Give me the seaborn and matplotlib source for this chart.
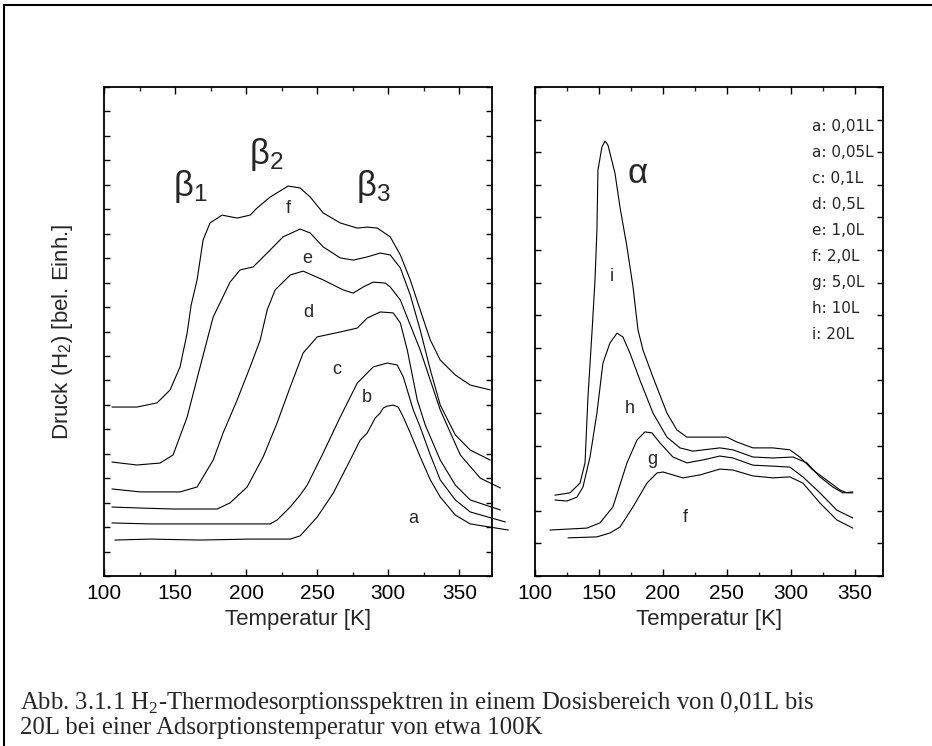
import numpy as np
import pandas as pd
import seaborn as sns
import matplotlib.pyplot as plt
from matplotlib.lines import Line2D

# left panel: doses a..f, beta states
a_x = [107.7, 132.4, 167.6, 202.8, 231, 238, 250, 261.3, 273.2, 280.3, 285.2, 290.8, 294.4, 296.5, 299.3, 303.5, 307, 310.6, 315.5, 322.5, 329.6, 336.6, 347.2, 357.7, 384.5]
a_y = [1.47, 1.51, 1.47, 1.51, 1.51, 1.64, 2.41, 3.39, 4.74, 5.56, 5.85, 6.46, 6.67, 6.87, 6.95, 6.99, 6.91, 6.5, 5.85, 4.87, 3.93, 3.23, 2.49, 2.13, 1.88]

b_x = [105.6, 132.4, 167.6, 216.9, 221.8, 231, 238, 243, 254.2, 266.2, 278.2, 289.4, 299.3, 306.3, 310.6, 317.6, 322.5, 329.6, 336.6, 347.2, 357.7, 382.4]
b_y = [2.17, 2.13, 2.13, 2.13, 2.29, 2.82, 3.31, 3.72, 5.03, 6.5, 7.89, 8.55, 8.71, 8.63, 8.14, 6.79, 6.09, 4.95, 3.93, 3.11, 2.62, 2.21]

c_x = [105.6, 125.4, 148.6, 179.6, 188.7, 200.7, 212, 221.8, 231, 240.1, 250, 266.2, 278.2, 285.2, 294.4, 303.5, 308.5, 313.4, 320.4, 326, 336.6, 347.2, 357.7, 378.9]
c_y = [2.82, 2.78, 2.74, 2.74, 2.99, 3.64, 4.87, 6.26, 7.73, 9.12, 9.78, 9.98, 10.14, 10.55, 10.8, 10.76, 10.35, 9.24, 7.2, 6.18, 4.74, 3.72, 3.11, 2.7]

d_x = [105.6, 125.4, 153.5, 165.5, 176.8, 183.8, 193.7, 202.8, 209.9, 214.8, 220.4, 231, 240.1, 254.2, 268.3, 275.4, 282.4, 289.4, 297.9, 301.4, 308.5, 322.5, 336.6, 350.7, 364.8, 378.9]
d_y = [3.56, 3.44, 3.44, 3.64, 4.74, 5.85, 7.2, 8.55, 9.65, 10.88, 11.7, 12.31, 12.47, 12.11, 11.7, 11.57, 11.82, 12.02, 11.98, 11.82, 11.29, 9.24, 6.79, 4.95, 4.0, 3.6]

e_x = [105.6, 123.2, 139.4, 148.6, 158.5, 167.6, 176.8, 188.7, 195.8, 204.9, 214.8, 226, 238, 245.1, 254.2, 266.2, 275.4, 285.2, 294.4, 301.4, 308.5, 315.5, 322.5, 329.6, 336.6, 347.2, 357.7, 371.8]
e_y = [4.66, 4.54, 4.62, 4.95, 6.5, 8.55, 10.59, 12.02, 12.52, 12.64, 13.21, 13.87, 14.19, 14.03, 13.46, 13.01, 12.92, 13.05, 13.21, 13.13, 12.6, 11.49, 10.06, 8.43, 6.99, 5.77, 5.15, 4.74]

f_x = [105.6, 123.2, 137.3, 146.5, 153.5, 158.5, 161.3, 165.5, 169.7, 174.6, 183.1, 193.7, 202.8, 207.7, 216.9, 229.6, 238, 245.1, 254.2, 266.2, 278.2, 285.2, 292.3, 301.4, 308.5, 315.5, 322.5, 329.6, 336.6, 347.2, 357.7, 371.8]
f_y = [6.91, 6.91, 7.08, 7.61, 8.55, 9.94, 11.08, 12.11, 13.74, 14.44, 14.76, 14.64, 14.76, 15.05, 15.5, 15.95, 15.87, 15.5, 14.85, 14.44, 14.23, 14.27, 14.23, 13.87, 13.13, 12.11, 10.88, 9.65, 8.83, 8.22, 7.81, 7.61]

# right panel: doses f..i, alpha state
rf_x = [125.8, 148.4, 158.6, 166.4, 176.6, 187.5, 195.3, 200, 207.8, 215.6, 228.9, 244.5, 254.7, 270.3, 285.9, 299.2, 309.4, 322.7, 335.9, 348.4]
rf_y = [1.17, 1.2, 1.32, 1.5, 2.12, 2.85, 3.16, 3.19, 3.1, 3.01, 3.1, 3.28, 3.25, 3.07, 3.01, 3.04, 2.85, 2.24, 1.72, 1.47]

g_x = [111.7, 140.6, 150.8, 160.9, 171.9, 179.7, 185.9, 191.4, 197.7, 207.8, 218.75, 231.25, 244.5, 254.7, 270.3, 285.9, 299.2, 309.4, 322.7, 335.9, 348.4]
g_y = [1.41, 1.47, 1.63, 2.12, 3.47, 4.17, 4.42, 4.39, 4.08, 3.65, 3.47, 3.56, 3.68, 3.62, 3.4, 3.37, 3.34, 3.04, 2.55, 2.02, 1.78]

h_x = [115.6, 125, 132.8, 137.5, 143, 148.4, 153.1, 158.6, 164.1, 168.75, 174.2, 182, 192.2, 203.1, 213.3, 223.4, 244.5, 254.7, 270.3, 285.9, 301.6, 312.5, 322.7, 332.8, 340.6, 348.4]
h_y = [2.33, 2.3, 2.42, 2.73, 3.65, 5.0, 6.53, 7.15, 7.45, 7.33, 6.84, 6.01, 5.0, 4.26, 3.93, 3.83, 3.93, 3.87, 3.65, 3.62, 3.65, 3.47, 3.04, 2.73, 2.55, 2.58]

i_x = [115.6, 127.3, 135.2, 139.1, 141.4, 144.5, 146.9, 148.4, 149.2, 152.3, 154.7, 157, 162.5, 166.4, 171.9, 176.6, 180.5, 184.4, 192.2, 203.1, 210.9, 218.75, 231.25, 250, 257.8, 270.3, 285.9, 299.2, 307, 317.2, 328.1, 338.3, 343.75, 348.4]
i_y = [2.48, 2.55, 2.85, 3.47, 5.49, 7.45, 9.08, 10.61, 12.45, 13.16, 13.34, 13.22, 12.36, 11.32, 10.09, 8.87, 7.55, 6.93, 6.1, 5.0, 4.48, 4.26, 4.26, 4.26, 4.11, 3.93, 3.93, 3.87, 3.65, 3.25, 2.94, 2.64, 2.55, 2.55]

left_labels = ["a", "b", "c", "d", "e", "f"]
left_label_x = [317.6, 285.2, 264.1, 243.7, 243.0, 229.6]
left_label_y = [2.37, 7.32, 8.43, 10.76, 13.0, 15.05]

right_labels = ["f", "g", "h", "i"]
right_label_x = [217.2, 191.4, 174.2, 160.2]
right_label_y = [1.78, 3.56, 5.15, 9.2]

legend_lines = ["a: 0,01L", "a: 0,05L", "c: 0,1L", "d: 0,5L", "e: 1,0L",
                "f: 2,0L", "g: 5,0L", "h: 10L", "i: 20L"]

sns.set_theme(style="ticks")
plt.rcParams['font.family'] = ['Liberation Sans', 'DejaVu Sans']

fig = plt.figure(figsize=(9.32, 7.46), dpi=100)
fig.patch.set_facecolor("white")

ax1 = fig.add_axes([104 / 932, 1 - 576 / 746, 388 / 932, 489 / 746])
ax2 = fig.add_axes([535 / 932, 1 - 576 / 746, 348 / 932, 489 / 746])

left = [(a_x, a_y), (b_x, b_y), (c_x, c_y), (d_x, d_y), (e_x, e_y), (f_x, f_y)]
right = [(rf_x, rf_y), (g_x, g_y), (h_x, h_y), (i_x, i_y)]

for xs, ys in left:
    sns.lineplot(x=xs, y=ys, ax=ax1, color="black", lw=0.8,
                 sort=False, estimator=None, clip_on=False)
for xs, ys in right:
    sns.lineplot(x=xs, y=ys, ax=ax2, color="black", lw=0.8,
                 sort=False, estimator=None, clip_on=False)

for ax, ymax in [(ax1, 20), (ax2, 15)]:
    ax.set_ylim(0, ymax)
    ax.set_yticks(np.arange(0, ymax + 1, 1))
    ax.set_yticklabels([])
    ax.set_xticks([100, 150, 200, 250, 300, 350])
    ax.set_xticks([125, 175, 225, 275, 325], minor=True)
    ax.tick_params(axis="both", which="major", direction="in", length=5,
                   width=1, top=True, right=True, labelsize=15, pad=6,
                   colors="black")
    ax.tick_params(axis="x", which="minor", direction="in", length=3,
                   width=1, top=True, bottom=True)
    ax.tick_params(axis="y", length=4)
    for sp in ax.spines.values():
        sp.set_visible(True)
        sp.set_linewidth(1.3)
        sp.set_color("black")
    ax.set_xlabel("Temperatur [K]", fontsize=16, labelpad=4)
    ax.set_facecolor("white")

ax1.set_xlim(100, 373)
ax2.set_xlim(100, 372)
ax1.set_ylabel("Druck (H$_\\mathregular{2}$) [bel. Einh.]", fontsize=16, labelpad=15)

for lab, x, y in zip(left_labels, left_label_x, left_label_y):
    ax1.text(x, y, lab, fontsize=13, ha="center", va="center")
for lab, x, y in zip(right_labels, right_label_x, right_label_y):
    ax2.text(x, y, lab, fontsize=13, ha="center", va="center")

ax1.text(160.6, 15.95, "$\\mathregular{β_1}$", fontsize=25, ha="center", va="center")
ax1.text(214.1, 17.22, "$\\mathregular{β_2}$", fontsize=25, ha="center", va="center")
ax1.text(289.4, 15.95, "$\\mathregular{β_3}$", fontsize=25, ha="center", va="center")
ax2.text(180.5, 12.36, "α", fontsize=25, ha="center", va="center")

for k, line in enumerate(legend_lines):
    ax2.text(316.5, 13.8 - 0.8 * k, line, fontsize=11, ha="left", va="center",
             family=["DejaVu Sans"])

# frame of the page
fig.add_artist(Line2D([4 / 932, 4 / 932], [0, 1 - 5 / 746], color="black", lw=1.5))
fig.add_artist(Line2D([4 / 932, 1], [1 - 5 / 746, 1 - 5 / 746], color="black", lw=1.5))

cap = dict(family=["Liberation Serif", "DejaVu Serif"], fontsize=17.8, ha="left", va="center")
fig.text(20 / 932, 1 - 703 / 746,
         "Abb. 3.1.1 H$_\\mathregular{2}$-Thermodesorptionsspektren in einem Dosisbereich von 0,01L bis", **cap)
fig.text(20 / 932, 1 - 728 / 746,
         "20L bei einer Adsorptionstemperatur von etwa 100K", **cap)

fig.savefig("out.png", dpi=100, facecolor="white")
